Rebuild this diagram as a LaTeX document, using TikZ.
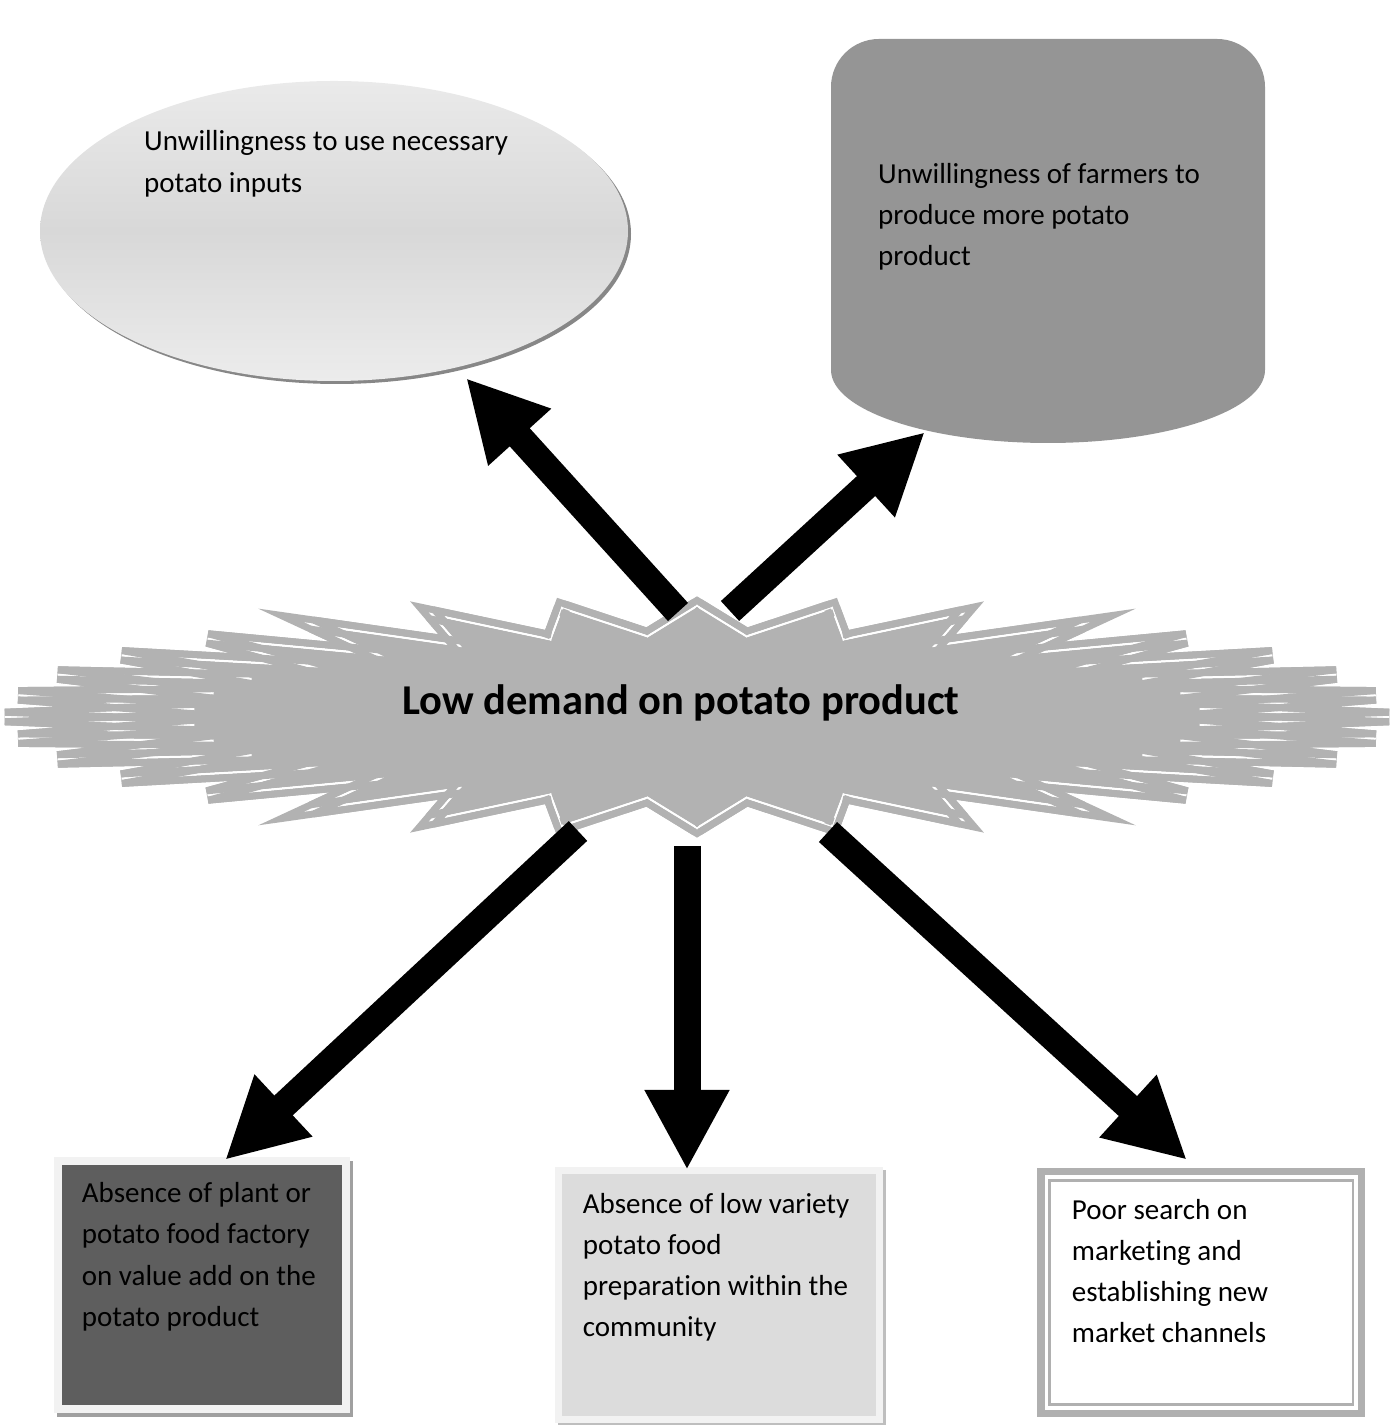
\documentclass[tikz,border=0pt]{standalone}
\usepackage{fontspec}
\setmainfont{Carlito}[Ligatures=NoCommon]
\usetikzlibrary{shapes.geometric,arrows.meta,calc}

\definecolor{burstgray}{RGB}{178,178,178}
\definecolor{cylgray}{RGB}{149,149,149}
\definecolor{ellA}{RGB}{234,234,234}
\definecolor{ellB}{RGB}{216,216,216}
\definecolor{ellC}{RGB}{236,236,236}
\definecolor{ellshadow}{RGB}{135,135,135}
\definecolor{framegray}{RGB}{242,242,242}
\definecolor{darkfill}{RGB}{94,94,94}
\definecolor{lightfill}{RGB}{220,220,220}
\definecolor{shadowA}{RGB}{160,160,160}
\definecolor{shadowB}{RGB}{190,190,190}
\definecolor{rimgray}{RGB}{176,176,176}

% lines of text whose baseline is the baseline of the first line
\newcommand{\txtlines}[1]{\begin{tabular}[t]{@{}l@{}}#1\end{tabular}}

\begin{document}
\begin{tikzpicture}[x=1pt,y=1pt,
  bodytext/.style={font=\fontsize{29}{41.2}\selectfont, inner sep=0pt, anchor=base west},
  titletext/.style={font=\fontsize{42.5}{50}\selectfont\bfseries, inner sep=0pt, anchor=base west},
  bigarrow/.style={line width=27pt, -{Triangle[width=79pt,length=80pt]}},
  burstbody/.style={fill=burstgray, draw=burstgray, line width=16.5pt},
  burstcore/.style={draw=white, line width=2.5pt},
  rimband/.style={draw=burstgray, line width=7pt},
]
\useasboundingbox (0,0) rectangle (1393,1425);

% ---- top left: shaded ellipse with a drop shadow
\fill[ellshadow] (337,1191) ellipse[x radius=294, y radius=150];
\node[ellipse, minimum width=588pt, minimum height=300pt, inner sep=0pt,
      top color=ellA, bottom color=ellC, middle color=ellB] (inputs) at (334,1194) {};
\node[bodytext] (inputstext) at (144,1274)
  {\txtlines{Unwillingness to use necessary\\potato inputs}};

% ---- top right: block with rounded top and curved bottom
\fill[cylgray] (831,1055) -- (831,1338) arc[start angle=180, end angle=90, radius=48]
  -- (1217,1386) arc[start angle=90, end angle=0, radius=48]
  -- (1265,1055) arc[start angle=0, end angle=-180, x radius=217, y radius=73] -- cycle;
\coordinate (farmers) at (1048,1200);
\node[bodytext] (farmerstext) at (878,1241.7)
  {\txtlines{Unwillingness of farmers to\\produce more potato\\product}};

% ---- central explosion: stretched 32-point star with a gray-white-gray rim
\foreach \k in {0,...,63} {
  \pgfmathsetmacro\rr{mod(\k,2)==0 ? 1 : 0.73}
  \coordinate (s\k) at ({697+692*\rr*cos(90+5.625*\k)}, {708+111*\rr*sin(90+5.625*\k)});
}
\draw[burstbody] (s0) \foreach \k in {1,...,63} {-- (s\k)} -- cycle;
\draw[burstcore] (s0) \foreach \k in {1,...,63} {-- (s\k)} -- cycle;
% gray bands on both sides of every edge, laid over the white core
\foreach \k [evaluate=\k as \n using {int(mod(\k+1,64))}] in {0,...,63} {
  \draw[rimband] ($(s\k)!4.75pt!-90:(s\n)$) -- ($(s\n)!4.75pt!90:(s\k)$);
  \draw[rimband] ($(s\k)!4.75pt!90:(s\n)$) -- ($(s\n)!4.75pt!-90:(s\k)$);
}
\coordinate (burstcentre) at (697,708);
\node[titletext] (title) at (402,710) {Low demand on potato product};

% ---- bottom left: dark box with light frame
\fill[shadowA] (57,8) rectangle (353,264);
\node[rectangle, draw=framegray, line width=8pt, fill=darkfill, inner sep=0pt,
      minimum width=288pt, minimum height=248pt] (factory) at (202,140) {};
\node[bodytext] (factorytext) at (81.7,222.3)
  {\txtlines{Absence of plant or\\potato food factory\\on value add on the\\potato product}};

% ---- bottom middle: light box with light frame
\fill[shadowB] (558,-1) rectangle (886,255);
\node[rectangle, draw=framegray, line width=7pt, fill=lightfill, inner sep=0pt,
      minimum width=321pt, minimum height=249pt] (variety) at (719,130) {};
\node[bodytext] (varietytext) at (582.7,211.7)
  {\txtlines{Absence of low variety\\potato food\\preparation within the\\community}};

% ---- bottom right: white box with double rim
\node[rectangle, draw=rimgray, line width=7.5pt, fill=white, inner sep=0pt,
      minimum width=320.5pt, minimum height=242pt] (market) at (1201.25,132.5) {};
\draw[rimgray, line width=2.2pt] (1049.5,244.5) rectangle (1353,20.5);
\node[bodytext] (markettext) at (1071.7,205.7)
  {\txtlines{Poor search on\\marketing and\\establishing new\\market channels}};

% ---- arrows out of the explosion
\coordinate (tailA) at (678,813);  \coordinate (tipA) at (466,1047);
\coordinate (tailB) at (730,814);  \coordinate (tipB) at (925,993);
\coordinate (tailC) at (578,594);  \coordinate (tipC) at (225,265);
\coordinate (tailD) at (687,579);  \coordinate (tipD) at (687,255);
\coordinate (tailE) at (828,593);  \coordinate (tipE) at (1187,265);
\draw[bigarrow] (tailA) -- (tipA);
\draw[bigarrow] (tailB) -- (tipB);
\draw[bigarrow] (tailC) -- (tipC);
\draw[bigarrow] (tailD) -- (tipD);
\draw[bigarrow] (tailE) -- (tipE);
\end{tikzpicture}
\end{document}
